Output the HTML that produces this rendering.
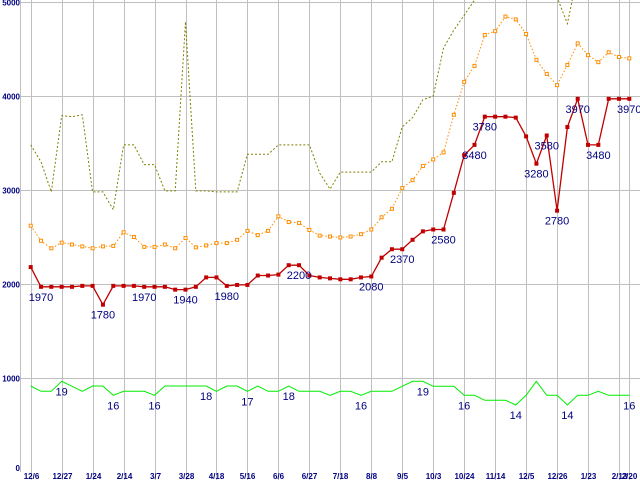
<!DOCTYPE html>
<html><head><meta charset="utf-8"><style>
html,body{margin:0;padding:0;background:#fff;}
svg{display:block;font-family:"Liberation Sans",sans-serif;}
</style></head><body>
<svg id="chart" width="640" height="480" viewBox="0 0 640 480" xmlns="http://www.w3.org/2000/svg">
<defs><clipPath id="plotclip"><rect x="21" y="0" width="619" height="472"/></clipPath></defs>
<g id="grid"></g>
<g id="axes"></g>
<g id="series" clip-path="url(#plotclip)"></g>
<g id="labels"></g>
</svg>
<script>
const xLabels = ["12/6","12/27","1/24","2/14","3/7","3/28","4/18","5/16","6/6","6/27","7/18","8/8","9/5","10/3","10/24","11/14","12/5","12/26","1/23","2/13","2/20"];
const yTicks = [0,1000,2000,3000,4000,5000];
const oliveVals = [3480,3300,2980,3790,3780,3800,2980,2980,2790,3480,3480,3270,3270,2990,2990,4790,2990,2990,2980,2980,2980,3380,3380,3380,3480,3480,3480,3480,3180,3010,3190,3190,3190,3190,3300,3300,3670,3770,3960,4000,4510,4700,4860,5020,5300,5400,5500,5500,5400,5300,5200,5050,4770,5300,5400,5400,5400,5400,5400];
const orangeVals = [2620,2460,2380,2440,2420,2400,2380,2400,2405,2550,2500,2395,2395,2420,2380,2490,2390,2410,2435,2435,2470,2565,2520,2565,2720,2660,2650,2575,2515,2505,2495,2505,2530,2580,2710,2800,3020,3105,3255,3325,3400,3800,4150,4320,4650,4690,4845,4815,4660,4385,4235,4115,4330,4560,4435,4360,4465,4415,4400];
const redVals = [2180,1970,1970,1970,1970,1980,1980,1780,1980,1980,1980,1970,1970,1970,1940,1940,1970,2070,2070,1980,1990,1990,2090,2090,2100,2200,2200,2090,2070,2060,2050,2050,2070,2080,2280,2370,2370,2470,2560,2580,2580,2970,3370,3480,3780,3780,3780,3770,3570,3280,3580,2780,3670,3970,3480,3480,3970,3970,3970];
const greenVals = [915,858,858,965,912,858,915,915,816,858,858,858,816,915,915,915,915,915,858,915,915,858,915,858,858,915,858,858,858,816,858,858,816,858,858,858,912,965,965,912,912,912,816,816,763,763,763,713,816,965,816,816,713,816,816,858,816,816,816];
const redLabelIdx = [1,7,11,15,19,26,33,36,40,43,44,49,50,51,53,55,58];
const greenLabelIdx = [3,8,12,17,21,25,32,38,42,47,52,58];
const greenLabels = ["19","16","16","18","17","18","16","19","16","14","14","16"];

const NS="http://www.w3.org/2000/svg";
function X(i){return 30.7+i*(598.6/58);}
function Y(v){return 472-v*0.094;}
function mk(tag,attrs,parent){const e=document.createElementNS(NS,tag);for(const k in attrs)e.setAttribute(k,attrs[k]);parent.appendChild(e);return e;}
const grid=document.getElementById('grid'),axes=document.getElementById('axes'),series=document.getElementById('series'),labels=document.getElementById('labels');

yTicks.forEach(t=>{
  const y=Math.round(Y(t))+0.5;
  if(t>0){const l=mk('line',{x1:21,x2:640,y1:y,y2:y,stroke:'#c0c0c0','stroke-width':1},grid);
  
  }
  const tx=mk('text',{x:20,y:t===0?471:y+3,'text-anchor':'end','font-size':8,'font-weight':'bold',fill:'#000080'},axes);
  tx.textContent=String(t);
  
  
});
const ya=mk('line',{x1:20.5,x2:20.5,y1:0,y2:472,stroke:'#c0c0c0','stroke-width':1},grid);


xLabels.forEach((lab,k)=>{
  const i=k<20?k*3:58;
  const x=Math.round(X(i))+0.5;
  const l=mk('line',{x1:x,x2:x,y1:0,y2:480,stroke:'#c0c0c0','stroke-width':1},grid);
  
  
  const tx=mk('text',{x:x,y:479,'text-anchor':'middle','font-size':8,'font-weight':'bold',fill:'#000080'},axes);
  tx.textContent=lab;
  
  
});

function pts(vals){return vals.map((v,i)=>X(i).toFixed(1)+','+Y(v).toFixed(1)).join(' ');}
const ol=mk('polyline',{points:pts(oliveVals),fill:'none',stroke:'#808000','stroke-width':1,'stroke-dasharray':'2,2'},series);


const or=mk('polyline',{points:pts(orangeVals),fill:'none',stroke:'#ff8c00','stroke-width':1,'stroke-dasharray':'1.5,2'},series);


orangeVals.forEach((v,i)=>{
  const r=mk('rect',{x:X(i)-1.5,y:Y(v)-1.5,width:3,height:3,fill:'#fff',stroke:'#ff8c00','stroke-width':1},series);
  
  
});
const gr=mk('polyline',{points:pts(greenVals),fill:'none',stroke:'#00ee00','stroke-width':1},series);


const rd=mk('polyline',{points:pts(redVals),fill:'none',stroke:'#c00000','stroke-width':1.3},series);


redVals.forEach((v,i)=>{
  const r=mk('rect',{x:X(i)-2,y:Y(v)-2,width:4,height:4,fill:'#c00000'},series);
  
  
});
redLabelIdx.forEach(i=>{
  const t=mk('text',{x:X(i),y:Y(redVals[i])+14,'text-anchor':'middle','font-size':11,fill:'#000080'},labels);
  t.textContent=String(redVals[i]);
  
  
});
greenLabelIdx.forEach((i,k)=>{
  const t=mk('text',{x:X(i),y:Y(greenVals[i])+14,'text-anchor':'middle','font-size':11,fill:'#000080'},labels);
  t.textContent=greenLabels[k];
  
  
});
</script>
</body></html>
